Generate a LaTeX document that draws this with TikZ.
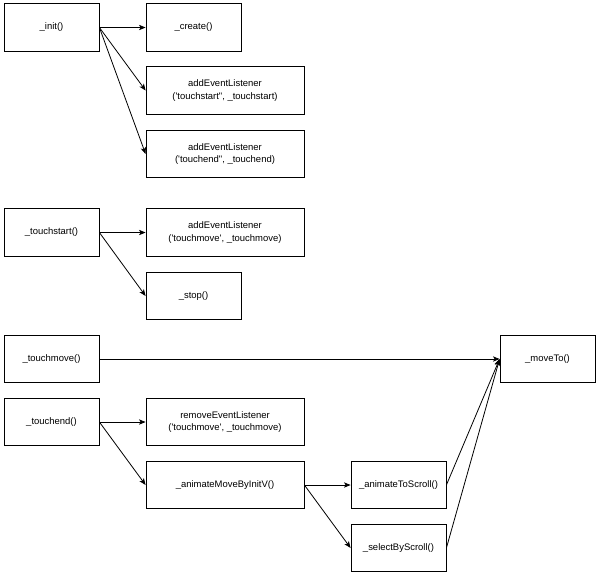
\documentclass[tikz,border=0pt]{standalone}
\usepackage{fontspec}
\setmainfont{Liberation Sans}
\usetikzlibrary{arrows.meta}

\begin{document}
\begin{tikzpicture}[x=0.75pt, y=-0.75pt,
  every node/.style={font=\fontsize{7.1pt}{9.2pt}\selectfont, align=center},
  box/.style={draw, line width=0.6pt, inner sep=0pt, minimum width=71.25pt, minimum height=35.6pt},
  widebox/.style={box, minimum width=118.5pt},
  link/.style={-{Stealth[length=5pt, width=4pt, inset=1.3pt]}, line width=0.6pt}]
\useasboundingbox (0,0) rectangle (600,576);
% left column
\node[box] (init)   at (51.5,27.5) {\_init()};
\node[box] (tstart) at (51.5,232.5) {\_touchstart()};
\node[box] (tmove)  at (51.5,359) {\_touchmove()};
\node[box] (tend)   at (51.5,422) {\_touchend()};
% second column
\node[box] (create)     at (193.5,27.5) {\_create()};
\node[widebox] (addstart) at (225,90.5) {addEventListener\\(\textquotesingle touchstart\textquotedbl, \_touchstart)};
\node[widebox] (addend)   at (225,154) {addEventListener\\(\textquotesingle touchend\textquotedbl, \_touchend)};
\node[widebox] (addmove)  at (225,232.5) {addEventListener\\(\textquotesingle touchmove\textquotesingle, \_touchmove)};
\node[box] (stop)       at (193.5,296) {\_stop()};
\node[widebox] (remove)   at (225,422) {removeEventListener\\(\textquotesingle touchmove\textquotesingle, \_touchmove)};
\node[widebox] (animinit) at (225,485) {\_animateMoveByInitV()};
% right part
\node[box] (animscroll) at (398.5,485) {\_animateToScroll()};
\node[box] (select)     at (398.5,548) {\_selectByScroll()};
\node[box] (moveto)     at (547.5,359) {\_moveTo()};
% calls
\foreach \a/\b in {init/create, init/addstart, init/addend, tstart/addmove, tstart/stop,
                   tmove/moveto, tend/remove, tend/animinit, animinit/animscroll,
                   animinit/select, animscroll/moveto, select/moveto}
  \draw[link] (\a.east) -- (\b.west);
\end{tikzpicture}
\end{document}
